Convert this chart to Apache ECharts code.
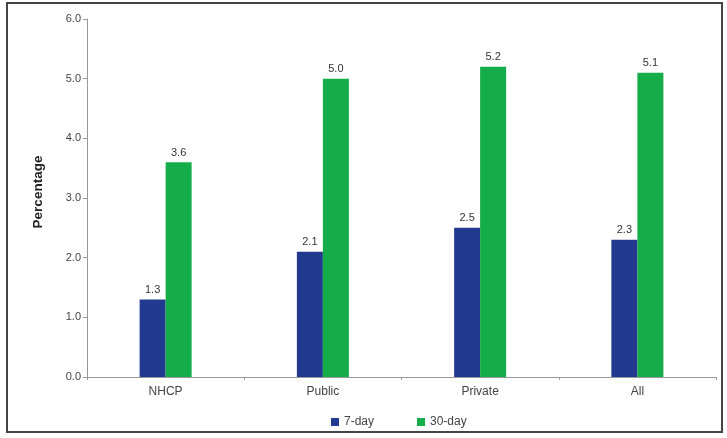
<!DOCTYPE html>
<html>
<head>
<meta charset="utf-8">
<script src="https://cdn.jsdelivr.net/npm/echarts@6/dist/echarts.min.js"></script>
<style>
  html, body { margin: 0; padding: 0; background: #fff; }
  #frame { position: absolute; left: 6px; top: 2px; width: 717px; height: 431px; border: 2px solid #444; box-sizing: border-box; }
  #chart { position: absolute; left: 0; top: 0; width: 727px; height: 438px; }
</style>
</head>
<body>
<div id="frame"></div>
<div id="chart"></div>
<script>
// Share of respondents, by provider type
const categories = ['NHCP', 'Public', 'Private', 'All'];
const sevenDay = [1.3, 2.1, 2.5, 2.3];
const thirtyDay = [3.6, 5.0, 5.2, 5.1];
const seriesNames = ['7-day', '30-day'];

const chart = echarts.init(document.getElementById('chart'), null, { renderer: 'canvas' });

const FONT = 'Liberation Sans, Arial, sans-serif';

const labelStyle = {
  show: true,
  position: 'top',
  distance: 4,
  color: '#333',
  fontFamily: FONT,
  fontSize: 11,
  formatter: p => p.value.toFixed(1)
};

chart.setOption({
  animation: false,
  grid: { left: 87, right: 11, top: 19, bottom: 61 },
  legend: {
    top: 411,
    left: 326,
    itemWidth: 8,
    itemHeight: 8,
    itemGap: 43,
    icon: 'rect',
    textStyle: { color: '#444', fontSize: 12, fontFamily: FONT },
    data: seriesNames
  },
  xAxis: {
    type: 'category',
    data: categories,
    axisLine: { lineStyle: { color: '#999', width: 1 } },
    axisTick: { show: true, length: 3, lineStyle: { color: '#999' } },
    axisLabel: { color: '#444', fontSize: 12, margin: 9, fontFamily: FONT }
  },
  yAxis: {
    type: 'value',
    min: 0,
    max: 6,
    interval: 1,
    name: 'Percentage',
    nameLocation: 'middle',
    nameGap: 42,
    nameRotate: 90,
    nameTextStyle: { color: '#222', fontWeight: 'bold', fontSize: 13.5, fontFamily: FONT, padding: [0, 0, 0, 12] },
    axisLine: { show: true, lineStyle: { color: '#999', width: 1 } },
    axisTick: { show: true, length: 4, lineStyle: { color: '#999' } },
    splitLine: { show: false },
    axisLabel: {
      color: '#444',
      fontSize: 11,
      margin: 6,
      fontFamily: FONT,
      formatter: v => v.toFixed(1)
    }
  },
  series: [
    {
      name: seriesNames[0],
      type: 'bar',
      data: sevenDay,
      barWidth: 26,
      barGap: '0%',
      itemStyle: { color: '#213a8f' },
      label: labelStyle
    },
    {
      name: seriesNames[1],
      type: 'bar',
      data: thirtyDay,
      barWidth: 26,
      barGap: '0%',
      itemStyle: { color: '#14ad4a' },
      label: labelStyle
    }
  ]
});
</script>
</body>
</html>
